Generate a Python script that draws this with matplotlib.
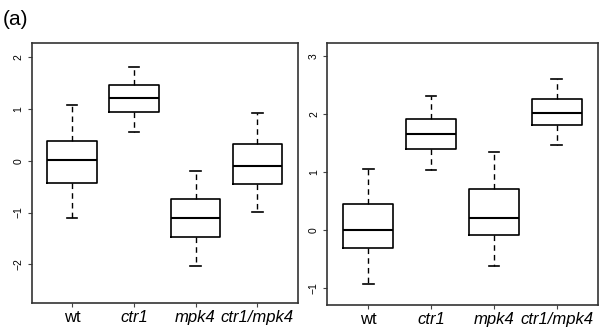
import numpy as np
import matplotlib
matplotlib.use("Agg")
import matplotlib.pyplot as plt

plt.rcParams['font.family'] = ['Liberation Sans', 'DejaVu Sans']

groups = ["wt", "ctr1", "mpk4", "ctr1/mpk4"]
italic = [False, True, True, True]

# panel 1: whisker low, Q1, median, Q3, whisker high
left_lo = [-1.10, 0.56, -2.04, -0.98]
left_q1 = [-0.43, 0.95, -1.47, -0.445]
left_med = [0.01, 1.21, -1.10, -0.09]
left_q3 = [0.39, 1.46, -0.73, 0.33]
left_hi = [1.075, 1.81, -0.19, 0.92]

# panel 2
right_lo = [-0.93, 1.04, -0.61, 1.47]
right_q1 = [-0.315, 1.39, -0.09, 1.81]
right_med = [0.0, 1.65, 0.21, 2.02]
right_q3 = [0.45, 1.91, 0.71, 2.26]
right_hi = [1.06, 2.32, 1.35, 2.60]


def make_stats(lo, q1, med, q3, hi):
    stats = []
    for i in range(len(groups)):
        stats.append({"whislo": lo[i], "q1": q1[i], "med": med[i],
                      "q3": q3[i], "whishi": hi[i], "fliers": []})
    return stats


def draw_panel(ax, stats, ylim, yticks):
    ax.bxp(stats, positions=np.arange(1, 5), widths=0.8, capwidths=0.17,
           showfliers=False,
           boxprops=dict(color="black", lw=1.2),
           medianprops=dict(color="black", lw=1.5),
           whiskerprops=dict(color="black", lw=1.0, linestyle=(0, (4, 3))),
           capprops=dict(color="black", lw=1.2))
    ax.set_xlim(0.35, 4.66)
    ax.set_ylim(*ylim)
    ax.set_yticks(yticks)
    ax.set_yticklabels([str(t).replace("-", "\u2212") for t in yticks],
                       rotation=90, va="center", fontsize=7.5)
    ax.set_xticks(np.arange(1, 5))
    ax.set_xticklabels(groups, fontsize=12)
    for lab, it in zip(ax.get_xticklabels(), italic):
        if it:
            lab.set_style("italic")
    ax.tick_params(axis="both", direction="out", length=3, width=0.8,
                   color="#444444")
    ax.tick_params(axis="x", pad=2)
    ax.tick_params(axis="y", pad=3)
    for sp in ax.spines.values():
        sp.set_color("#333333")
        sp.set_linewidth(1.2)


fig = plt.figure(figsize=(6.05, 3.3), dpi=100)
ax1 = fig.add_axes([0.0529, 0.0818, 0.4397, 0.7879])
ax2 = fig.add_axes([0.541, 0.0758, 0.448, 0.793])

draw_panel(ax1, make_stats(left_lo, left_q1, left_med, left_q3, left_hi),
           (-2.75, 2.28), [-2, -1, 0, 1, 2])
draw_panel(ax2, make_stats(right_lo, right_q1, right_med, right_q3, right_hi),
           (-1.29, 3.22), [-1, 0, 1, 2, 3])

fig.text(0.005, 0.94, "(a)", fontsize=15, va="center", ha="left")

fig.savefig("out.png", dpi=100)
